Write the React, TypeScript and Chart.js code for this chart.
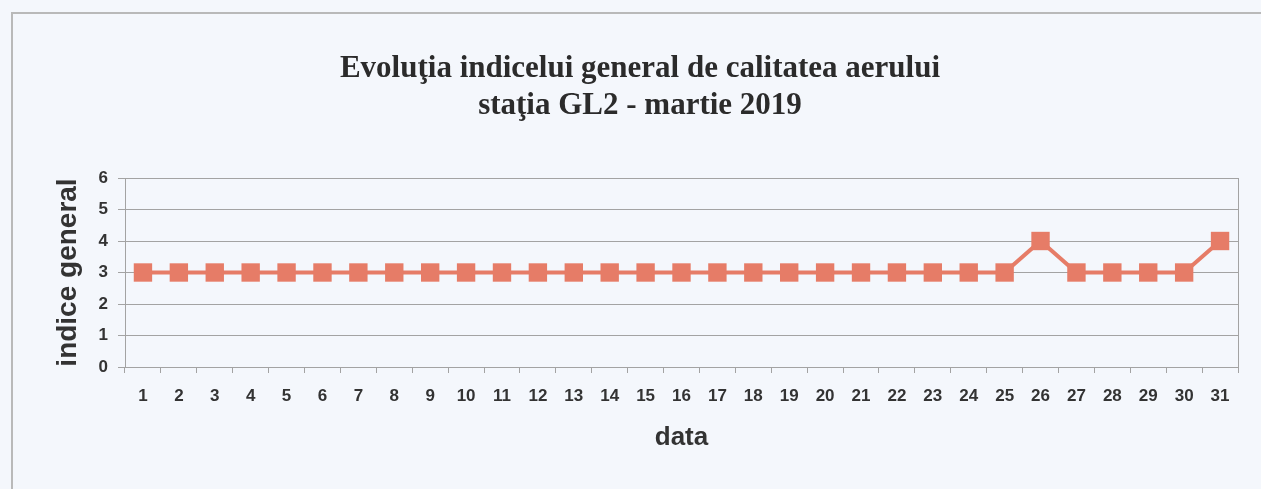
import React, { useEffect, useRef } from "react";
import { Chart, registerables } from "chart.js";

Chart.register(...registerables);

const TITLE_LINES = ["Evoluţia indicelui general de calitatea aerului", "staţia GL2 - martie 2019"];
const Y_TITLE = "indice general";
const X_TITLE = "data";
const DAYS = Array.from({ length: 31 }, (_, i) => String(i + 1));
const INDEX_VALUES = [3, 3, 3, 3, 3, 3, 3, 3, 3, 3, 3, 3, 3, 3, 3, 3, 3, 3, 3, 3, 3, 3, 3, 3, 3, 4, 3, 3, 3, 3, 4];
const Y_MIN = 0;
const Y_MAX = 6;

const LINE_COLOR = "#e67c67";
const GRID_COLOR = "#a3a3a3";
const TEXT_COLOR = "#333333";
const BG = "#f4f7fc";

const W = 1261;
const H = 489;
const AREA_LEFT = 125;
const AREA_RIGHT = 1238;
const AREA_TOP = 178;
const AREA_BOTTOM = 367;
const PAD_LEFT = 42;
const TITLE_PAD_TOP = 51;

const rightBorder = {
  id: "rightBorder",
  afterDatasetsDraw(chart: any) {
    const { ctx, chartArea } = chart;
    ctx.save();
    ctx.strokeStyle = GRID_COLOR;
    ctx.lineWidth = 1;
    ctx.beginPath();
    ctx.moveTo(Math.round(chartArea.right) + 0.5, chartArea.top);
    ctx.lineTo(Math.round(chartArea.right) + 0.5, chartArea.bottom);
    ctx.stroke();
    ctx.restore();
  },
};

export default function App() {
  const ref = useRef<HTMLCanvasElement>(null);
  useEffect(() => {
    if (!ref.current) return;
    const chart = new Chart(ref.current, {
      type: "line",
      data: {
        labels: DAYS,
        datasets: [
          {
            data: INDEX_VALUES,
            borderColor: LINE_COLOR,
            backgroundColor: LINE_COLOR,
            borderWidth: 4,
            pointStyle: "rect",
            pointRadius: 13,
            pointBorderWidth: 0,
            pointBackgroundColor: LINE_COLOR,
            tension: 0,
          },
        ],
      },
      plugins: [rightBorder],
      options: {
        responsive: false,
        animation: false,
        devicePixelRatio: 1,
        layout: { padding: { left: PAD_LEFT, right: W - AREA_RIGHT, top: 0, bottom: 0 } },
        plugins: {
          legend: { display: false },
          tooltip: { enabled: false },
          title: {
            display: true,
            text: TITLE_LINES,
            color: "#2b2b2b",
            font: { family: "'Liberation Serif', 'Times New Roman', serif", size: 31, weight: "bold", lineHeight: 1.19 },
            padding: { top: TITLE_PAD_TOP, bottom: AREA_TOP - TITLE_PAD_TOP - 2 * 31 * 1.19 },
          },
        },
        scales: {
          x: {
            offset: true,
            grid: {
              offset: true,
              drawOnChartArea: false,
              drawTicks: true,
              tickLength: 6,
              color: GRID_COLOR,
            },
            border: { display: true, color: GRID_COLOR, width: 1 },
            ticks: {
              color: TEXT_COLOR,
              font: { family: "'Liberation Sans', Arial, sans-serif", size: 17, weight: "bold" },
              padding: 13,
              maxRotation: 0,
              autoSkip: false,
            },
            title: {
              display: true,
              text: X_TITLE,
              color: TEXT_COLOR,
              font: { family: "'Liberation Sans', Arial, sans-serif", size: 26, weight: "bold", lineHeight: 1.2 },
              padding: { top: 0, bottom: 36 },
            },
            afterFit(scale: any) {
              scale.height = H - AREA_BOTTOM;
            },
          },
          y: {
            min: Y_MIN,
            max: Y_MAX,
            ticks: {
              stepSize: 1,
              color: TEXT_COLOR,
              font: { family: "'Liberation Sans', Arial, sans-serif", size: 17, weight: "bold" },
              padding: 10,
            },
            grid: { color: GRID_COLOR, tickLength: 7, lineWidth: 1 },
            border: { display: true, color: GRID_COLOR, width: 1 },
            title: {
              display: true,
              text: Y_TITLE,
              color: TEXT_COLOR,
              font: { family: "'Liberation Sans', Arial, sans-serif", size: 28, weight: "bold", lineHeight: 1.2 },
              padding: { top: 9, bottom: 0 },
            },
            afterFit(scale: any) {
              scale.width = AREA_LEFT - PAD_LEFT;
            },
          },
        },
      },
    });
    return () => chart.destroy();
  }, []);

  return (
    <div style={{ position: "fixed", left: 0, top: 0, width: W, height: H, background: BG, overflow: "hidden" }}>
      <div
        style={{
          position: "absolute",
          left: 11,
          top: 12,
          width: W + 50,
          height: H + 50,
          borderTop: "2px solid #b9b9b9",
          borderLeft: "2px solid #b9b9b9",
        }}
      />
      <canvas ref={ref} width={W} height={H} style={{ position: "absolute", left: 0, top: 0, width: W, height: H }} />
    </div>
  );
}
